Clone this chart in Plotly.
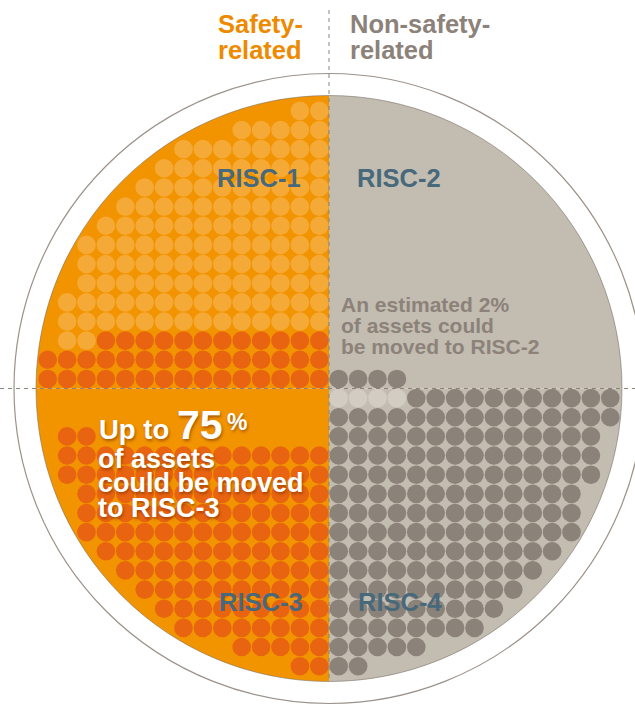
import plotly.graph_objects as go

# ---------------- data ----------------
# number of dot slots in each row of a quadrant, counted from the centre outward
ROW_CAPACITY = [15, 15, 14, 14, 14, 13, 13, 13, 12, 11, 10, 9, 8, 5, 2]
# RISC-1 dots re-coloured as moving to RISC-3 (rows from centre, filled from centre column)
RISC1_TO_RISC3_ROWS = [15, 15, 12]
# RISC-3 slots left empty (same rows, from centre column)
RISC3_EMPTY_ROWS = [15, 15, 12]
# RISC-4 dots moving to RISC-2 (first row)
RISC4_TO_RISC2_ROWS = [4]

QUADRANT_LABELS = ["RISC-1", "RISC-2", "RISC-3", "RISC-4"]
HEADER_LEFT = ["Safety-", "related"]
HEADER_RIGHT = ["Non-safety-", "related"]
NOTE_RISC2 = ["An estimated 2%", "of assets could", "be moved to RISC-2"]
NOTE_RISC3_PCT = "75"
NOTE_RISC3 = ["of assets", "could be moved", "to RISC-3"]

# ---------------- styling ----------------
ORANGE_BG = "#F29400"
ORANGE_LIGHT = "#F5A937"
ORANGE_DARK = "#E96410"
GRAY_BG = "#C2BCB1"
GRAY_DOT = "#8B8279"
GRAY_FADED = "#D2CCC3"
LABEL_BLUE = "#47697B"
TEXT_GRAY = "#8C8279"
HEAD_ORANGE = "#EE8A00"
FONT = "Liberation Sans, Arial, sans-serif"

W, H = 635, 705
CX, CY = 329, 388.5          # centre in pixels
SX, SY = 19.4, 19.15         # pixels per grid step
R_IN, R_OUT = 293, 315       # radii in pixels
DOT = 18.6


def dx(px):
    return (px - CX) / SX


def dy(py):
    return (CY - py) / SY


def dots(rows_count, sx, sy, skip=None):
    xs, ys = [], []
    for j, n in enumerate(rows_count):
        start = 0
        if skip is not None and j < len(skip):
            start = skip[j]
        for i in range(start, n):
            xs.append(sx * (i + 0.5))
            ys.append(sy * (j + 0.5))
    return xs, ys


fig = go.Figure()

# quadrant backgrounds (quarter circles)
rx, ry = R_IN / SX, R_IN / SY
k = 0.5523


def quarter(sx, sy):
    return (f"M 0 0 L {sx*rx} 0 C {sx*rx} {sy*k*ry}, {sx*k*rx} {sy*ry}, 0 {sy*ry} Z")


shapes = []
for (sx, sy, col) in [(-1, 1, ORANGE_BG), (-1, -1, ORANGE_BG), (1, 1, GRAY_BG), (1, -1, GRAY_BG)]:
    shapes.append(dict(type="path", path=quarter(sx, sy), fillcolor=col,
                       line=dict(width=0), layer="below"))

# inner circle outline
shapes.append(dict(type="circle", x0=dx(CX - R_IN), x1=dx(CX + R_IN), y0=dy(CY + R_IN), y1=dy(CY - R_IN),
                   line=dict(color="rgba(120,110,100,0.7)", width=0.8), layer="below"))
# outer circle
shapes.append(dict(type="circle", x0=dx(CX - R_OUT), x1=dx(CX + R_OUT), y0=dy(CY + R_OUT), y1=dy(CY - R_OUT),
                   line=dict(color="#9C928A", width=1.2), layer="below"))
# dashed axes
shapes.append(dict(type="line", x0=0, x1=0, y0=dy(10), y1=dy(CY + R_IN),
                   line=dict(color="#8C8279", width=1, dash="4px,4px"), layer="above"))
shapes.append(dict(type="line", x0=dx(0), x1=dx(W), y0=0, y1=0,
                   line=dict(color="#8C8279", width=1, dash="4px,4px"), layer="above"))

# ---- dots ----
# RISC-1 (top-left) light orange, except the moved ones
x, y = dots(ROW_CAPACITY, -1, 1, skip=RISC1_TO_RISC3_ROWS)
fig.add_trace(go.Scatter(x=x, y=y, mode="markers", hoverinfo="skip",
                         marker=dict(size=DOT, color=ORANGE_LIGHT, line=dict(width=0))))
x, y = dots(RISC1_TO_RISC3_ROWS, -1, 1)
fig.add_trace(go.Scatter(x=x, y=y, mode="markers", hoverinfo="skip",
                         marker=dict(size=DOT, color=ORANGE_DARK, line=dict(width=0))))
# RISC-3 (bottom-left)
x, y = dots(ROW_CAPACITY, -1, -1, skip=RISC3_EMPTY_ROWS)
fig.add_trace(go.Scatter(x=x, y=y, mode="markers", hoverinfo="skip",
                         marker=dict(size=DOT, color=ORANGE_DARK, line=dict(width=0))))
# RISC-4 (bottom-right)
x, y = dots(ROW_CAPACITY, 1, -1, skip=RISC4_TO_RISC2_ROWS)
fig.add_trace(go.Scatter(x=x, y=y, mode="markers", hoverinfo="skip",
                         marker=dict(size=DOT, color=GRAY_DOT, line=dict(width=0))))
x, y = dots(RISC4_TO_RISC2_ROWS, 1, -1)
fig.add_trace(go.Scatter(x=x, y=y, mode="markers", hoverinfo="skip",
                         marker=dict(size=DOT, color=GRAY_FADED, line=dict(width=0))))
# moved into RISC-2 (top-right)
x, y = dots(RISC4_TO_RISC2_ROWS, 1, 1)
fig.add_trace(go.Scatter(x=x, y=y, mode="markers", hoverinfo="skip",
                         marker=dict(size=DOT, color=GRAY_DOT, line=dict(width=0))))

# ---- text ----
ann = []


def txt(s, px, baseline, size, color, anchor="left", shadow=None):
    f = dict(family=FONT, size=size, color=color, weight="bold")
    if shadow:
        f["shadow"] = shadow
    ann.append(dict(text=s, x=dx(px), y=dy(baseline - 0.35 * size), xref="x", yref="y",
                    xanchor=anchor, yanchor="middle", showarrow=False, borderpad=0, font=f))


for i, s in enumerate(HEADER_LEFT):
    txt(s, 217, 33 + 26 * i, 25.5, HEAD_ORANGE)
for i, s in enumerate(HEADER_RIGHT):
    txt(s, 349, 33 + 26 * i, 25.5, TEXT_GRAY)

label_pos = [(258.5, 187.3), (399, 187.3), (260.5, 610.7), (399.5, 610.7)]
for s, (px, b) in zip(QUADRANT_LABELS, label_pos):
    txt(s, px, b, 25.5, LABEL_BLUE, anchor="center")

for i, s in enumerate(NOTE_RISC2):
    txt(s, 340, 311.7 + 21.3 * i, 21, TEXT_GRAY)

SH = "1px 2px 3px rgba(110,40,0,0.55)"
txt("Up to", 98, 439, 27.5, "white", shadow=SH)
txt(NOTE_RISC3_PCT, 176, 439, 41, "white", shadow=SH)
txt("%", 226, 430, 23, "white", shadow=SH)
for i, s in enumerate(NOTE_RISC3):
    txt(s, 97, 468 + 24.5 * i, 27, "white", shadow=SH)

fig.update_layout(
    width=W, height=H, margin=dict(l=0, r=0, t=0, b=0),
    paper_bgcolor="white", plot_bgcolor="white", showlegend=False,
    xaxis=dict(range=[dx(0), dx(W)], visible=False, fixedrange=True),
    yaxis=dict(range=[dy(H), dy(0)], visible=False, fixedrange=True),
    shapes=shapes, annotations=ann,
)

fig.write_html("out.html", config={"displayModeBar": False},
               post_script="document.body.style.margin='0';document.body.style.overflow='hidden';")
